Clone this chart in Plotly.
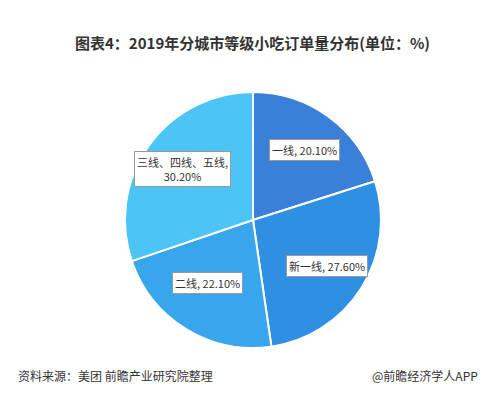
import math
import plotly.graph_objects as go

labels = ["一线", "新一线", "二线", "三线、四线、五线"]
values = [20.10, 27.60, 22.10, 30.20]
texts = ["一线, 20.10%", "新一线, 27.60%", "二线, 22.10%", "三线、四线、五线,<br>30.20%"]
colors = ["#3a7fd8", "#2f8fe3", "#38a6ec", "#4cc4f6"]

W, H = 489, 400
cx, cy, r = 245, 212, 128  # pixels
fig = go.Figure(go.Pie(
    labels=labels, values=values, sort=False, direction="clockwise", rotation=0,
    marker=dict(colors=colors, line=dict(color="white", width=2)),
    textinfo="none", hoverinfo="label+percent", showlegend=False,
    domain=dict(x=[(cx - r) / W, (cx + r) / W], y=[(H - cy - r) / H, (H - cy + r) / H]),
))
total = sum(values)
cum = 0
anns = []
for v, t in zip(values, texts):
    mid = 90 - (cum + v / 2) / total * 360
    cum += v
    rf = 0.68
    px = cx + rf * r * math.cos(math.radians(mid))
    py = cy - rf * r * math.sin(math.radians(mid))
    anns.append(dict(x=px / W, y=1 - py / H, xref="paper", yref="paper", text=t, showarrow=False,
                     font=dict(size=11, color="#333", family="Noto Sans CJK SC"),
                     bgcolor="white", bordercolor="#999", borderwidth=1, borderpad=2))
anns.append(dict(x=0.5, y=1 - 22 / H, xref="paper", yref="paper", showarrow=False,
                 text="<b>图表4：2019年分城市等级小吃订单量分布(单位：%)</b>",
                 font=dict(size=15, color="#333", family="Noto Sans CJK SC")))
anns.append(dict(x=8 / W, y=1 - 378 / H, xref="paper", yref="paper", xanchor="left", showarrow=False,
                 text="资料来源：美团 前瞻产业研究院整理", font=dict(size=12, color="#333", family="Noto Sans CJK SC")))
anns.append(dict(x=472 / W, y=1 - 378 / H, xref="paper", yref="paper", xanchor="right", showarrow=False,
                 text="@前瞻经济学人APP", font=dict(size=12, color="#333", family="Noto Sans CJK SC")))
fig.update_layout(width=W, height=H, margin=dict(l=0, r=0, t=0, b=0),
                  paper_bgcolor="white", plot_bgcolor="white", annotations=anns)
fig.write_html("out.html")
